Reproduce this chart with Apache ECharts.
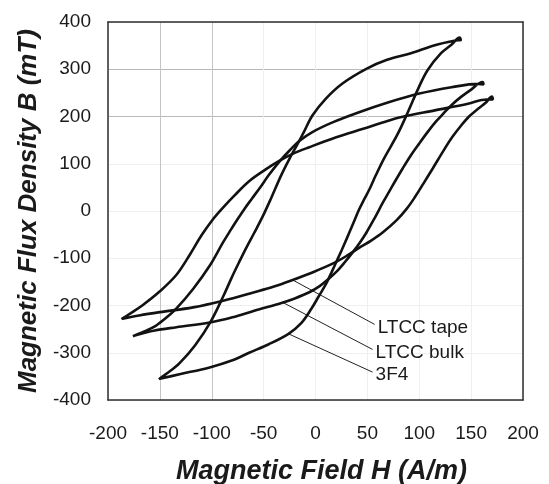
<!DOCTYPE html>
<html>
<head>
<meta charset="utf-8">
<title>B-H hysteresis loops</title>
<script src="https://cdn.jsdelivr.net/npm/echarts@6/dist/echarts.min.js"></script>
<style>
  html, body { margin: 0; padding: 0; background: #ffffff; }
  #chart { width: 549px; height: 484px; }
</style>
</head>
<body>
<div id="chart"></div>
<script>
// Axis ranges and tick spacing
const xRange = [-200, 200];
const xStep = 50;
const yRange = [-400, 400];
const yStep = 100;

// Curve names, in the order of the annotation labels
const loopNames = ['LTCC tape', 'LTCC bulk', '3F4'];

// 3F4 ferrite: rising branch (negative tip -> positive tip), then falling branch back
const f3f4Rising = [
  [-150, -355], [-130, -345], [-102, -331], [-80, -316], [-64, -300], [-45, -282],
  [-26, -260], [-14, -238], [-4, -207], [3, -181], [10, -155], [15, -132], [20, -108],
  [25, -84], [30, -59], [36, -28], [42, 3], [47, 25], [52, 46], [58, 75], [66, 111],
  [79, 162], [89, 209], [99, 259], [108, 298], [121, 334], [131, 352], [139, 367]
];
const f3f4Falling = [
  [140, 362], [135, 361], [115, 351], [92, 334], [69, 320], [49, 301], [26, 270],
  [10, 238], [-3, 202], [-11, 168], [-18, 139], [-25, 111], [-33, 76], [-43, 26],
  [-51, -12], [-59, -46], [-67, -79], [-74, -110], [-81, -142], [-89, -181],
  [-101, -234], [-116, -284], [-131, -322], [-142, -342], [-151, -356]
];

// LTCC bulk
const bulkRising = [
  [-175, -264], [-155, -253], [-134, -246], [-102, -236], [-80, -225], [-59, -211],
  [-32, -194], [-20, -185], [-6, -172], [4, -159], [12, -145], [20, -129], [28, -109],
  [36, -87], [43, -66], [49, -46], [57, -15], [65, 18], [71, 41], [77, 64], [84, 90],
  [92, 118], [100, 143], [108, 167], [116, 189], [124, 208], [132, 226], [140, 241],
  [150, 257], [161, 273]
];
const bulkFalling = [
  [162, 268], [157, 269], [131, 262], [99, 248], [69, 229], [42, 209], [17, 188],
  [-3, 167], [-15, 149], [-25, 128], [-35, 104], [-45, 76], [-53, 51], [-61, 27],
  [-68, 6], [-75, -17], [-82, -41], [-89, -66], [-102, -116], [-118, -165],
  [-134, -206], [-145, -228], [-154, -243], [-165, -255], [-176, -265]
];

// LTCC tape
const tapeRising = [
  [-186, -228], [-170, -221], [-150, -214], [-118, -204], [-89, -190], [-59, -172],
  [-40, -160], [-22, -146], [-3, -130], [17, -111], [30, -95], [42, -78], [54, -62],
  [65, -45], [78, -20], [88, 5], [96, 30], [104, 58], [113, 90], [124, 130],
  [132, 157], [140, 180], [148, 200], [157, 217], [164, 229], [170, 242]
];
const tapeFalling = [
  [171, 236], [165, 236], [147, 227], [115, 213], [83, 199], [70, 191], [46, 174],
  [20, 156], [-6, 135], [-22, 121], [-35, 106], [-48, 88], [-64, 63], [-78, 33],
  [-90, 5], [-99, -18], [-110, -52], [-121, -92], [-134, -135], [-150, -170],
  [-167, -200], [-178, -216], [-187, -229]
];

// Leader lines from each curve to its name
const tapeLeader = [[-22, -146], [57, -240]];
const bulkLeader = [[-32, -193], [55, -293]];
const f3f4Leader = [[-26, -260], [55, -341]];

const FONT = '"Liberation Sans", Arial, Helvetica, sans-serif';
const INK = '#1a1a1a';

const chart = echarts.init(document.getElementById('chart'), null, { renderer: 'canvas' });

function loopSeries(name, rising, falling) {
  return {
    name: name,
    type: 'line',
    data: rising.concat(falling),
    showSymbol: false,
    smooth: 0.35,
    silent: true,
    lineStyle: { color: '#121212', width: 2.6 },
    z: 3
  };
}

function leaderSeries(name, pts) {
  return {
    name: name,
    type: 'line',
    data: pts,
    showSymbol: false,
    silent: true,
    lineStyle: { color: '#222222', width: 1 },
    endLabel: {
      show: true,
      formatter: '{a}',
      distance: 3,
      offset: [0, 3],
      fontFamily: FONT,
      fontSize: 19,
      color: INK
    },
    z: 2
  };
}

// Grid-line shades, one entry per tick from min to max
const xGridColors = ['#e6e6e6', '#c4c4c4', '#c4c4c4', '#efefef', '#efefef', '#efefef', '#efefef', '#efefef', '#e6e6e6'];
const yGridColors = ['#e6e6e6', '#efefef', '#efefef', '#efefef', '#efefef', '#efefef', '#b8b8b8', '#b8b8b8', '#e6e6e6'];

const frame = { show: true, onZero: false, lineStyle: { color: '#2e2e2e', width: 1.5 } };

const option = {
  animation: false,
  backgroundColor: '#ffffff',
  grid: {
    left: 108, top: 22, width: 415, height: 378,
    containLabel: false,
    outerBoundsMode: 'none'
  },
  xAxis: [
    {
      type: 'value',
      min: xRange[0], max: xRange[1], interval: xStep,
      position: 'bottom',
      name: 'Magnetic Field H (A/m)',
      nameLocation: 'middle',
      nameGap: 58,
      nameTextStyle: {
        fontFamily: FONT, fontSize: 27, fontWeight: 'bold', fontStyle: 'italic',
        color: INK, padding: [0, 0, 0, 12]
      },
      axisLine: frame,
      axisTick: { show: false },
      axisLabel: { fontFamily: FONT, fontSize: 19, color: INK, margin: 24 },
      splitLine: { show: true, lineStyle: { color: xGridColors, width: 1 } }
    },
    {
      type: 'value',
      min: xRange[0], max: xRange[1], interval: xStep,
      position: 'top',
      axisLine: frame,
      axisTick: { show: false },
      axisLabel: { show: false },
      splitLine: { show: false }
    }
  ],
  yAxis: [
    {
      type: 'value',
      min: yRange[0], max: yRange[1], interval: yStep,
      position: 'left',
      name: 'Magnetic Flux Density B (mT)',
      nameLocation: 'middle',
      nameRotate: 90,
      nameGap: 66,
      nameTextStyle: {
        fontFamily: FONT, fontSize: 26, fontWeight: 'bold', fontStyle: 'italic', color: INK
      },
      axisLine: frame,
      axisTick: { show: false },
      axisLabel: { fontFamily: FONT, fontSize: 19, color: INK, margin: 17, padding: [6, 0, 0, 0] },
      splitLine: { show: true, lineStyle: { color: yGridColors, width: 1 } }
    },
    {
      type: 'value',
      min: yRange[0], max: yRange[1], interval: yStep,
      position: 'right',
      axisLine: frame,
      axisTick: { show: false },
      axisLabel: { show: false },
      splitLine: { show: false }
    }
  ],
  series: [
    loopSeries('3F4 loop', f3f4Rising, f3f4Falling),
    loopSeries('LTCC bulk loop', bulkRising, bulkFalling),
    loopSeries('LTCC tape loop', tapeRising, tapeFalling),
    leaderSeries(loopNames[0], tapeLeader),
    leaderSeries(loopNames[1], bulkLeader),
    leaderSeries(loopNames[2], f3f4Leader)
  ]
};

chart.setOption(option);
</script>
</body>
</html>
